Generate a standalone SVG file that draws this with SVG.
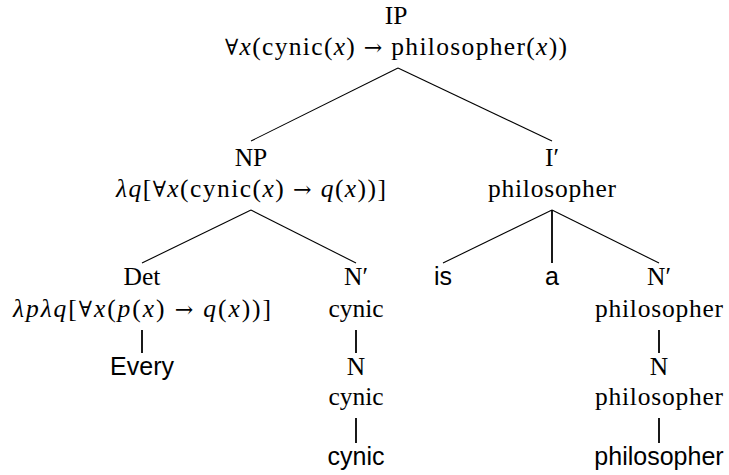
<svg xmlns="http://www.w3.org/2000/svg" width="729" height="475" viewBox="0 0 729 475">
<style>
  .s { font-family: "Liberation Serif", "DejaVu Serif", serif; font-size: 25.5px; fill: #000; text-anchor: middle; }
  .ss { font-family: "Liberation Sans", "DejaVu Sans", sans-serif; font-size: 25px; fill: #000; text-anchor: middle; }
  .i { font-style: italic; }
  .m { font-family: "DejaVu Serif", "Liberation Serif", serif; font-size: 22px; font-style: normal; }
  .e { stroke: #000; stroke-width: 1.1; fill: none; }
  .v { stroke: #000; stroke-width: 1.8; fill: none; }
</style>
<rect width="729" height="475" fill="#fff"/>
<g id="connectors">
  <line class="e" x1="398" y1="68" x2="251" y2="141"/>
  <line class="e" x1="398" y1="68" x2="552" y2="141"/>
  <line class="e" x1="251" y1="210" x2="142" y2="263"/>
  <line class="e" x1="251" y1="210" x2="356" y2="263"/>
  <line class="e" x1="552" y1="210" x2="443" y2="263"/>
  <line class="v" x1="552" y1="210" x2="552" y2="263"/>
  <line class="e" x1="552" y1="210" x2="659" y2="263"/>
  <line class="v" x1="142" y1="330" x2="142" y2="353"/>
  <line class="v" x1="356" y1="330" x2="356" y2="353"/>
  <line class="v" x1="356" y1="418" x2="356" y2="443"/>
  <line class="v" x1="659" y1="330" x2="659" y2="353"/>
  <line class="v" x1="659" y1="418" x2="659" y2="443"/>
</g>
<g id="IP">
  <text class="s" x="396" y="24">IP</text>
  <text class="s" x="396" y="55" textLength="342" lengthAdjust="spacing"><tspan class="m">∀</tspan><tspan class="i">x</tspan>(cynic(<tspan class="i">x</tspan>) <tspan class="m">→</tspan> philosopher(<tspan class="i">x</tspan>))</text>
</g>
<g id="NP">
  <text class="s" x="251" y="166">NP</text>
  <text class="s" x="251" y="197" textLength="270" lengthAdjust="spacing"><tspan class="i">λq</tspan>[<tspan class="m">∀</tspan><tspan class="i">x</tspan>(cynic(<tspan class="i">x</tspan>) <tspan class="m">→</tspan> <tspan class="i">q</tspan>(<tspan class="i">x</tspan>))]</text>
</g>
<g id="Ibar">
  <text class="s" x="552" y="166">I′</text>
  <text class="s" x="552" y="197" textLength="128" lengthAdjust="spacing">philosopher</text>
</g>
<g id="Det">
  <text class="s" x="142" y="285">Det</text>
  <text class="s" x="142" y="317" textLength="258" lengthAdjust="spacing"><tspan class="i">λpλq</tspan>[<tspan class="m">∀</tspan><tspan class="i">x</tspan>(<tspan class="i">p</tspan>(<tspan class="i">x</tspan>) <tspan class="m">→</tspan> <tspan class="i">q</tspan>(<tspan class="i">x</tspan>))]</text>
</g>
<g id="Every">
  <text class="ss" x="142" y="375">Every</text>
</g>
<g id="Nbar1">
  <text class="s" x="356" y="285">N′</text>
  <text class="s" x="356" y="317">cynic</text>
</g>
<g id="N1">
  <text class="s" x="356" y="375">N</text>
  <text class="s" x="356" y="405">cynic</text>
</g>
<g id="cynic">
  <text class="ss" x="356" y="465">cynic</text>
</g>
<g id="is">
  <text class="ss" x="443" y="285">is</text>
</g>
<g id="a">
  <text class="ss" x="552" y="285">a</text>
</g>
<g id="Nbar2">
  <text class="s" x="659" y="285">N′</text>
  <text class="s" x="659" y="317" textLength="128" lengthAdjust="spacing">philosopher</text>
</g>
<g id="N2">
  <text class="s" x="659" y="375">N</text>
  <text class="s" x="659" y="405" textLength="128" lengthAdjust="spacing">philosopher</text>
</g>
<g id="philosopher">
  <text class="ss" x="659" y="465">philosopher</text>
</g>
</svg>
